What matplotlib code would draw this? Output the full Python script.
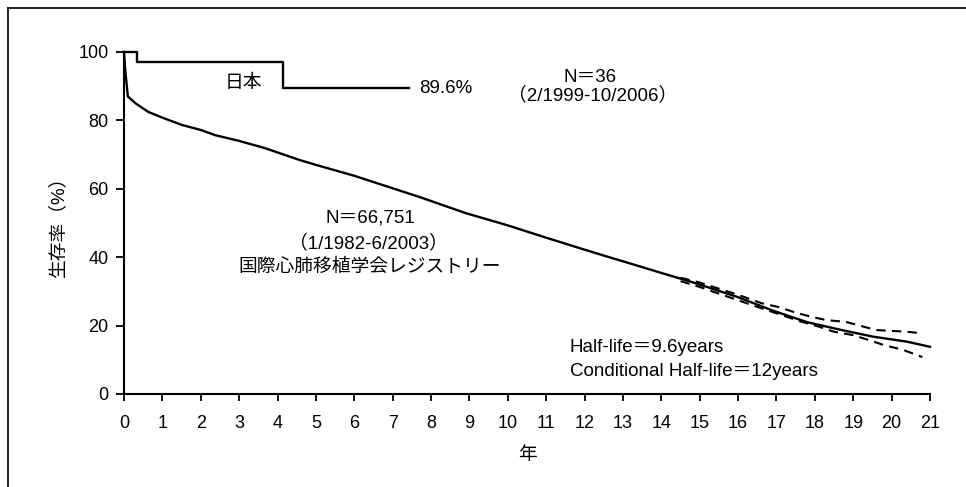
import matplotlib
matplotlib.use("Agg")
import matplotlib.pyplot as plt
from matplotlib.lines import Line2D

plt.rcParams['font.family'] = ['Liberation Sans', 'Noto Sans CJK JP', 'DejaVu Sans']

# International registry survival curve (years, %)
isHLT_years = [0, 0.03, 0.1, 0.3, 0.63, 1, 1.5, 2, 2.37, 3, 3.67, 4.58, 5, 6, 6.74,
               7.7, 8.9, 10, 11, 12, 12.7, 13, 14, 14.66, 15, 16, 16.9, 17.8, 18.7,
               19.5, 20.4, 21]
isHLT_surv = [100, 95, 87, 85, 82.5, 80.8, 78.7, 77.2, 75.7, 74, 71.9, 68.4, 67, 63.8, 61.1,
              57.6, 52.9, 49.3, 45.7, 42.2, 39.8, 38.8, 35.4, 33.2, 32, 28.3, 24.4, 21.0, 18.7,
              16.8, 15.3, 13.8]

# confidence band (dashed)
upper_years = [14.5, 15, 16, 16.6, 17.06, 17.5, 17.9, 18.3, 18.8, 19.6, 20.4, 20.75]
upper_surv = [34.0, 32.6, 29.0, 26.6, 25.4, 23.8, 22.6, 21.6, 21.1, 18.7, 18.2, 17.8]
lower_years = [14.5, 15, 16, 17, 17.6, 18.1, 18.5, 19.0, 19.4, 19.8, 20.3, 20.8]
lower_surv = [33.0, 31.3, 27.4, 23.6, 21.3, 19.7, 18.2, 17.2, 15.8, 14.3, 12.9, 10.8]

# Japan step curve
japan_years = [0, 0.33, 4.15, 7.42]
japan_surv = [100, 97.2, 89.6, 89.6]

xticks = list(range(0, 22))
yticks = [0, 20, 40, 60, 80, 100]

fig = plt.figure(figsize=(9.66, 4.87), dpi=100)
ax = fig.add_axes([124/966, 1-394/487, (930-124)/966, (394-52)/487])

ax.plot(isHLT_years, isHLT_surv, color='black', lw=1.7, clip_on=False)
ax.plot(upper_years, upper_surv, color='black', lw=1.5, ls=(0, (4.5, 3)))
ax.plot(lower_years, lower_surv, color='black', lw=1.5, ls=(0, (4.5, 3)))
ax.step(japan_years, japan_surv, where='post', color='black', lw=1.7, clip_on=False)

ax.set_xlim(0, 21)
ax.set_ylim(0, 100)
ax.set_xticks(xticks)
ax.set_yticks(yticks)
for s in ['top', 'right']:
    ax.spines[s].set_visible(False)
for s in ['left', 'bottom']:
    ax.spines[s].set_linewidth(1.5)
ax.tick_params(axis='y', direction='out', length=6, width=1.3, labelsize=13, pad=5)
ax.tick_params(axis='x', direction='out', length=5, width=1.3, labelsize=13, pad=10)

ax.set_ylabel('生存率（%）', fontsize=13.5, labelpad=8)
ax.set_xlabel('年', fontsize=13.5, labelpad=11)

fs = 13.5
ax.text(3.1, 90.9, '日本', ha='center', va='center', fontsize=fs)
ax.text(7.7, 89.4, '89.6%', ha='left', va='center', fontsize=fs)
ax.text(12.14, 92.4, 'N＝36', ha='center', va='center', fontsize=fs)
ax.text(12.2, 87.4, '（2/1999-10/2006）', ha='center', va='center', fontsize=fs)
ax.text(6.41, 51.5, 'N＝66,751', ha='center', va='center', fontsize=fs)
ax.text(6.38, 44.2, '（1/1982-6/2003）', ha='center', va='center', fontsize=fs)
ax.text(6.41, 37.1, '国際心肺移植学会レジストリー', ha='center', va='center', fontsize=fs)
ax.text(11.62, 13.7, 'Half-life＝9.6years', ha='left', va='center', fontsize=fs)
ax.text(11.62, 6.7, 'Conditional Half-life＝12years', ha='left', va='center', fontsize=fs)

# frame lines (left and top)
fig.add_artist(Line2D([8/966, 8/966], [0, 1-8/487], transform=fig.transFigure, color='black', lw=1.2))
fig.add_artist(Line2D([8/966, 1], [1-8/487, 1-8/487], transform=fig.transFigure, color='black', lw=1.2))

fig.savefig('out.png', dpi=100)
